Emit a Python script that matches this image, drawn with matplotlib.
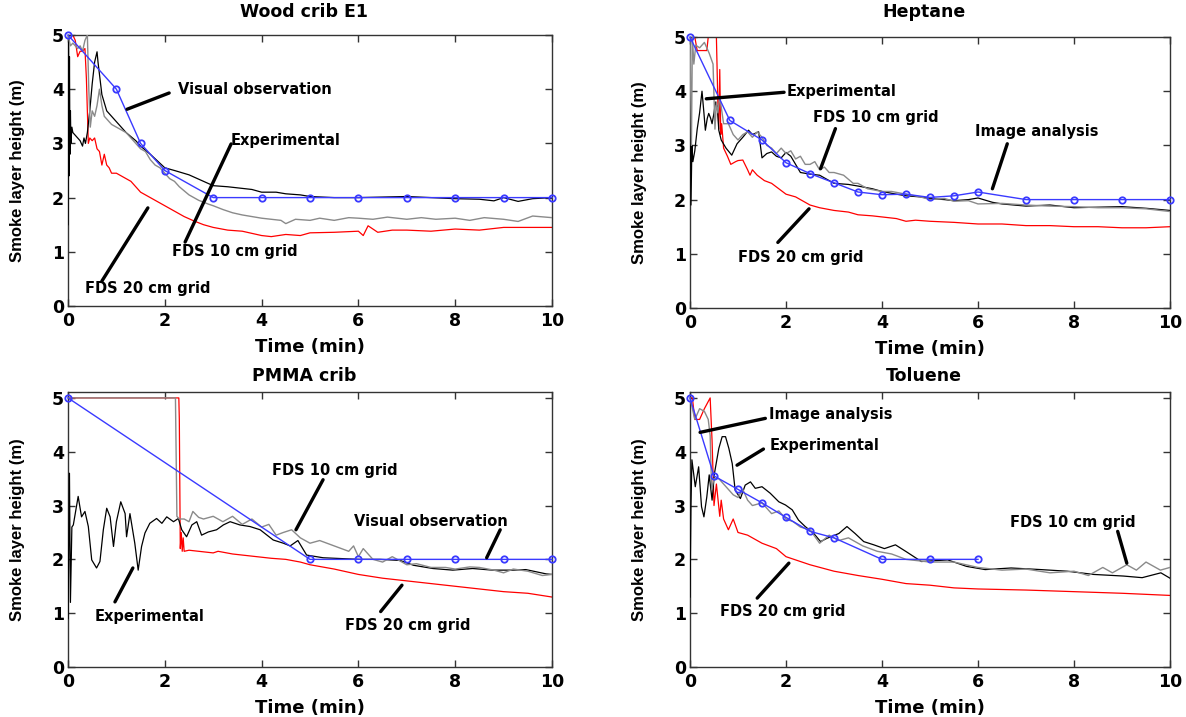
import matplotlib
matplotlib.use("Agg")
import matplotlib.pyplot as plt

# ---------------- data ----------------
# Wood crib E1
wc_vis_t = [0, 1, 1.5, 2, 3, 4, 5, 6, 7, 8, 9, 10]
wc_vis_h = [5, 4, 3, 2.5, 2, 2, 2, 2, 2, 2, 2, 2]
wc_exp_t = [0, 0.01, 0.02, 0.03, 0.04, 0.05, 0.06, 0.08, 0.1, 0.15, 0.2, 0.25, 0.3, 0.33, 0.36, 0.4,
            0.45, 0.5, 0.55, 0.6, 0.62, 0.66, 0.7, 0.8, 0.9, 1.0, 1.2, 1.4, 1.5, 1.7, 2.0, 2.2, 2.5,
            2.8, 3.0, 3.3, 3.5, 3.8, 4.0, 4.3, 4.5, 4.8, 5.0, 5.5, 6.0, 6.5, 7.0, 7.5, 8.0, 8.5,
            8.8, 9.0, 9.3, 9.6, 10]
wc_exp_h = [1.5, 5.0, 2.4, 4.6, 2.8, 3.6, 3.0, 3.3, 3.2, 3.15, 3.1, 3.05, 2.95, 3.1, 3.0, 3.2,
            3.6, 4.1, 4.5, 4.69, 4.5, 4.2, 3.9, 3.6, 3.5, 3.4, 3.2, 3.05, 2.95, 2.8, 2.55, 2.5, 2.42,
            2.3, 2.22, 2.2, 2.18, 2.15, 2.1, 2.1, 2.07, 2.05, 2.02, 2.0, 2.0, 2.01, 2.02, 2.0, 1.98, 1.97,
            1.94, 2.0, 1.93, 1.98, 2.0]
wc_f10_t = [0, 0.05, 0.1, 0.15, 0.2, 0.25, 0.3, 0.35, 0.4, 0.43, 0.46, 0.5, 0.55, 0.6, 0.65, 0.7,
            0.75, 0.8, 0.9, 1.0, 1.1, 1.2, 1.3, 1.4, 1.5, 1.6, 1.7, 1.8, 1.9, 2.0, 2.1, 2.2, 2.3, 2.5,
            2.7, 2.9, 3.0, 3.2, 3.4, 3.6, 3.8, 4.0, 4.2, 4.4, 4.5, 4.7, 5.0, 5.2, 5.5, 5.8, 6.0, 6.3,
            6.6, 7.0, 7.3, 7.6, 8.0, 8.3, 8.6, 9.0, 9.3, 9.6, 10]
wc_f10_h = [5, 4.8, 4.85, 4.8, 4.75, 4.8, 4.7, 4.9, 5.0, 4.0, 3.3, 3.6, 3.5, 3.7, 4.0, 3.7,
            3.5, 3.45, 3.35, 3.3, 3.25, 3.2, 3.1, 3.0, 2.9, 2.85, 2.7, 2.6, 2.55, 2.45, 2.35, 2.3, 2.2, 2.05,
            1.95, 1.88, 1.85, 1.78, 1.72, 1.68, 1.65, 1.62, 1.6, 1.58, 1.52, 1.6, 1.58, 1.62, 1.58, 1.63, 1.62, 1.6,
            1.64, 1.6, 1.63, 1.6, 1.62, 1.58, 1.63, 1.6, 1.56, 1.66, 1.63]
wc_f20_t = [0, 0.1, 0.15, 0.2, 0.25, 0.3, 0.35, 0.38, 0.42, 0.45, 0.5, 0.55, 0.6, 0.65, 0.7, 0.75,
            0.8, 0.85, 0.9, 1.0, 1.1, 1.2, 1.3, 1.4, 1.5, 1.6, 1.7, 1.8, 2.0, 2.2, 2.4, 2.6, 2.8, 3.0,
            3.3, 3.6, 4.0, 4.2, 4.5, 4.8, 5.0, 5.5, 6.0, 6.1, 6.2, 6.4, 6.7, 7.0, 7.5, 8.0, 8.5, 9.0,
            9.5, 10]
wc_f20_h = [5, 5, 4.9, 4.6, 4.7, 4.7, 4.75, 4.2, 3.0, 3.1, 3.05, 3.1, 2.9, 2.85, 2.6, 2.8,
            2.6, 2.55, 2.45, 2.45, 2.4, 2.35, 2.3, 2.2, 2.1, 2.05, 2.0, 1.95, 1.85, 1.75, 1.65, 1.57, 1.5, 1.45,
            1.4, 1.38, 1.3, 1.28, 1.32, 1.3, 1.35, 1.36, 1.38, 1.3, 1.48, 1.36, 1.4, 1.4, 1.38, 1.42, 1.4, 1.45,
            1.45, 1.45]

# Heptane
hp_img_t = [0, 0.83, 1.5, 2, 2.5, 3, 3.5, 4, 4.5, 5, 5.5, 6, 7, 8, 9, 10]
hp_img_h = [5, 3.46, 3.1, 2.68, 2.48, 2.31, 2.14, 2.09, 2.1, 2.04, 2.07, 2.14, 2.0, 2.0, 2.0, 2.0]
hp_exp_t = [0, 0.02, 0.04, 0.06, 0.1, 0.15, 0.2, 0.25, 0.29, 0.32, 0.36, 0.39, 0.43, 0.46, 0.5, 0.53,
            0.57, 0.6, 0.65, 0.75, 0.87, 0.98, 1.1, 1.22, 1.3, 1.43, 1.5, 1.6, 1.7, 1.8, 1.9, 2.0, 2.1,
            2.2, 2.3, 2.5, 2.7, 3.0, 3.3, 3.5, 3.8, 4.0, 4.3, 4.5, 4.8, 5.0, 5.3, 5.5, 5.8, 6.0, 6.3,
            6.5, 7.0, 7.5, 8.0, 8.5, 9.0, 9.5, 10]
hp_exp_h = [5, 1.9, 3.0, 2.7, 2.9, 3.3, 3.6, 4.0, 3.6, 3.28, 3.5, 3.59, 3.5, 3.4, 3.6, 3.8,
            3.7, 3.28, 3.1, 2.95, 2.82, 3.03, 3.15, 3.28, 3.2, 3.25, 2.77, 2.85, 2.88, 2.8, 2.77, 2.87, 2.8,
            2.65, 2.5, 2.47, 2.45, 2.3, 2.28, 2.25, 2.2, 2.15, 2.1, 2.07, 2.05, 2.02, 2.0, 1.98, 2.0, 2.03, 1.95,
            1.92, 1.88, 1.9, 1.85, 1.86, 1.87, 1.84, 1.8]
hp_f10_t = [0, 0.03, 0.05, 0.08, 0.12, 0.2, 0.3, 0.4, 0.48, 0.52, 0.55, 0.58, 0.62, 0.7, 0.8, 0.9,
            1.0, 1.1, 1.2, 1.3, 1.4, 1.5, 1.6, 1.7, 1.8, 1.9, 2.0, 2.1, 2.2, 2.3, 2.4, 2.5, 2.6, 2.7,
            2.8, 2.9, 3.0, 3.2, 3.4, 3.5, 3.7, 4.0, 4.2, 4.5, 4.8, 5.0, 5.3, 5.5, 5.8, 6.0, 6.5, 7.0,
            7.5, 8.0, 8.5, 9.0, 9.5, 10]
hp_f10_h = [5, 3.0, 5.0, 4.5, 4.85, 4.8, 4.9, 4.7, 4.5, 3.3, 3.8, 3.6, 3.9, 3.4, 3.4, 3.2,
            3.1, 3.2, 3.25, 3.15, 3.25, 3.15, 3.0, 2.95, 2.85, 2.95, 2.85, 2.9, 2.75, 2.8, 2.65, 2.65, 2.7, 2.55,
            2.6, 2.5, 2.5, 2.45, 2.3, 2.3, 2.2, 2.15, 2.15, 2.1, 2.05, 2.0, 2.02, 1.97, 1.98, 1.92, 1.93, 1.9,
            1.88, 1.87, 1.85, 1.85, 1.83, 1.78]
hp_f20_t = [0, 0.1, 0.15, 0.25, 0.35, 0.38, 0.45, 0.55, 0.58, 0.6, 0.62, 0.64, 0.66, 0.7, 0.78, 0.85,
            0.95, 1.0, 1.1, 1.2, 1.25, 1.3, 1.4, 1.55, 1.7, 1.85, 2.0, 2.2, 2.4, 2.5, 2.7, 3.0, 3.3,
            3.5, 3.8, 4.0, 4.3, 4.5, 4.7, 5.0, 5.5, 6.0, 6.5, 7.0, 7.5, 8.0, 8.5, 9.0, 9.5, 10]
hp_f20_h = [5, 5, 4.75, 4.75, 4.75, 5.0, 5.0, 5.0, 3.8, 3.3, 4.4, 3.2, 3.4, 2.95, 2.8, 2.65,
            2.7, 2.72, 2.73, 2.55, 2.45, 2.55, 2.45, 2.35, 2.3, 2.2, 2.1, 2.05, 1.95, 1.9, 1.85, 1.8, 1.77,
            1.72, 1.7, 1.68, 1.65, 1.6, 1.62, 1.6, 1.58, 1.55, 1.55, 1.52, 1.52, 1.5, 1.5, 1.48, 1.48, 1.5]

# PMMA crib
pm_vis_t = [0, 5, 6, 7, 8, 9, 10]
pm_vis_h = [5, 2, 2, 2, 2, 2, 2]
pm_exp_t = [0, 0.03, 0.05, 0.08, 0.11, 0.21, 0.28, 0.35, 0.42, 0.49, 0.59, 0.66, 0.73, 0.8, 0.87,
            0.94, 1.0, 1.09, 1.18, 1.21, 1.28, 1.38, 1.45, 1.52, 1.59, 1.69, 1.83, 1.94, 2.04, 2.18,
            2.28, 2.35, 2.45, 2.56, 2.66, 2.76, 2.9, 3.07, 3.21, 3.35, 3.55, 3.76, 3.97, 4.24, 4.45,
            4.59, 4.75, 4.93, 5.27, 5.76, 6.04, 6.45, 6.86, 7.14, 7.54, 7.95, 8.36, 8.77, 9.19, 9.46,
            9.88, 10]
pm_exp_h = [0.9, 3.6, 1.2, 2.6, 2.64, 3.17, 2.79, 2.89, 2.61, 1.99, 1.84, 1.96, 2.55, 2.95, 2.79,
            2.24, 2.7, 3.07, 2.85, 2.42, 2.85, 2.3, 1.8, 2.24, 2.49, 2.67, 2.76, 2.67, 2.79, 2.7,
            2.76, 2.55, 2.42, 2.64, 2.7, 2.45, 2.51, 2.55, 2.64, 2.7, 2.64, 2.61, 2.55, 2.36, 2.3,
            2.25, 2.35, 2.08, 2.03, 2.01, 2.0, 2.0, 1.98, 1.89, 1.83, 1.8, 1.83, 1.8, 1.8, 1.81,
            1.73, 1.72]
pm_f10_t = [0, 2.22, 2.25, 2.3, 2.4, 2.5, 2.58, 2.7, 2.8, 3.0, 3.2, 3.4, 3.6, 3.8, 4.0, 4.15,
            4.3, 4.45, 4.62, 4.8, 5.0, 5.2, 5.5, 5.8, 5.9, 6.0, 6.1, 6.3, 6.5, 6.7, 7.0, 7.2, 7.5,
            7.8, 8.0, 8.3, 8.5, 8.8, 9.0, 9.2, 9.5, 9.8, 10]
pm_f10_h = [5, 5, 2.8, 2.75, 2.75, 2.7, 2.89, 2.78, 2.75, 2.8, 2.7, 2.8, 2.65, 2.75, 2.6, 2.65,
            2.45, 2.5, 2.55, 2.4, 2.3, 2.35, 2.25, 2.15, 2.25, 2.05, 2.2, 2.0, 1.95, 2.05, 1.9, 1.92, 1.85,
            1.85, 1.82, 1.86, 1.85, 1.8, 1.75, 1.82, 1.78, 1.7, 1.72]
pm_f20_t = [0, 2.29, 2.3, 2.32, 2.34, 2.36, 2.38, 2.4, 2.5, 2.7, 3.0, 3.1, 3.4, 3.6, 3.9, 4.2,
            4.5, 4.8, 5.0, 5.5, 6.0, 6.5, 7.0, 7.5, 8.0, 8.5, 9.0, 9.5, 10]
pm_f20_h = [5, 5, 4.6, 2.2, 2.5, 2.15, 2.4, 2.15, 2.17, 2.15, 2.12, 2.15, 2.1, 2.08, 2.05, 2.02,
            2.0, 1.95, 1.9, 1.82, 1.72, 1.65, 1.6, 1.55, 1.5, 1.45, 1.4, 1.37, 1.3]

# Toluene
tl_img_t = [0, 0.5, 1, 1.5, 2, 2.5, 3, 4, 5, 6]
tl_img_h = [5, 3.55, 3.3, 3.05, 2.78, 2.52, 2.4, 2.0, 2.0, 2.0]
tl_exp_t = [0, 0.02, 0.04, 0.11, 0.18, 0.24, 0.29, 0.35, 0.4, 0.46, 0.51, 0.6, 0.67, 0.74, 0.81,
            0.88, 0.94, 1.05, 1.15, 1.26, 1.36, 1.5, 1.67, 1.85, 1.99, 2.13, 2.26, 2.4, 2.58, 2.72,
            2.85, 3.1, 3.27, 3.44, 3.62, 3.83, 4.05, 4.28, 4.51, 4.82, 5.37, 5.76, 6.15, 6.69, 7.31,
            7.86, 8.41, 9.03, 9.42, 9.81, 10]
tl_exp_h = [1.3, 3.0, 3.85, 3.35, 3.72, 2.98, 2.79, 3.16, 3.57, 3.1, 3.6, 4.06, 4.28, 4.28, 4.06,
            3.78, 3.29, 3.13, 3.38, 3.44, 3.32, 3.35, 3.23, 3.07, 3.01, 2.92, 2.73, 2.61, 2.48, 2.33,
            2.39, 2.48, 2.61, 2.48, 2.33, 2.27, 2.2, 2.27, 2.14, 1.96, 1.99, 1.87, 1.81, 1.84, 1.81,
            1.78, 1.72, 1.69, 1.66, 1.75, 1.65]
tl_f10_t = [0, 0.05, 0.1, 0.2, 0.3, 0.38, 0.42, 0.45, 0.5, 0.6, 0.7, 0.8, 0.9, 1.0, 1.1, 1.2, 1.3,
            1.5, 1.7, 1.85, 2.0, 2.15, 2.3, 2.5, 2.7, 2.9, 3.1, 3.3, 3.6, 3.9, 4.2, 4.5, 5.0, 5.5,
            6.0, 6.5, 7.0, 7.5, 8.0, 8.3, 8.6, 8.8, 9.1, 9.3, 9.5, 9.8, 10]
tl_f10_h = [5, 4.8, 4.6, 4.8, 4.75, 4.6, 4.3, 3.3, 3.5, 3.5, 3.4, 3.3, 3.2, 3.15, 3.3, 3.1, 3.0,
            3.05, 2.85, 2.9, 2.75, 2.7, 2.6, 2.55, 2.3, 2.45, 2.35, 2.4, 2.25, 2.15, 2.1, 2.0, 1.95, 1.95,
            1.85, 1.8, 1.82, 1.75, 1.78, 1.7, 1.85, 1.75, 1.9, 1.8, 1.95, 1.8, 1.85]
tl_f20_t = [0, 0.05, 0.1, 0.2, 0.3, 0.42, 0.46, 0.5, 0.55, 0.62, 0.65, 0.7, 0.8, 0.9, 1.0, 1.2,
            1.5, 1.8, 2.0, 2.5, 3.0, 3.5, 4.0, 4.5, 5.0, 5.5, 6.0, 7.0, 8.0, 9.0, 10]
tl_f20_h = [5, 5, 4.6, 4.6, 4.8, 5.0, 4.2, 3.0, 3.4, 2.8, 3.1, 2.75, 2.55, 2.75, 2.5, 2.45,
            2.3, 2.2, 2.05, 1.9, 1.78, 1.7, 1.63, 1.55, 1.52, 1.47, 1.45, 1.43, 1.4, 1.37, 1.33]

# annotations: label, text position (t, h), leader start, leader end
wc_notes = [("Visual observation", (2.27, 4.0), (2.09, 3.93), (1.22, 3.63)),
            ("Experimental", (3.35, 3.06), (3.37, 2.99), (2.42, 1.18)),
            ("FDS 10 cm grid", (2.15, 1.0), None, None),
            ("FDS 20 cm grid", (0.35, 0.33), (0.70, 0.46), (1.65, 1.81))]
hp_notes = [("Experimental", (2.02, 4.0), (1.96, 3.98), (0.34, 3.86)),
            ("FDS 10 cm grid", (2.56, 3.52), (3.03, 3.31), (2.72, 2.57)),
            ("Image analysis", (5.94, 3.25), (6.61, 3.03), (6.3, 2.2)),
            ("FDS 20 cm grid", (1.0, 0.94), (1.83, 1.21), (2.48, 1.83))]
pm_notes = [("FDS 10 cm grid", (4.21, 3.66), (5.27, 3.48), (4.71, 2.55)),
            ("Visual observation", (5.91, 2.71), (8.93, 2.55), (8.65, 2.03)),
            ("Experimental", (0.56, 0.93), (0.97, 1.21), (1.34, 1.84)),
            ("FDS 20 cm grid", (5.72, 0.78), (6.46, 1.03), (6.9, 1.52))]
tl_notes = [("Image analysis", (1.65, 4.7), (1.57, 4.62), (0.21, 4.36)),
            ("Experimental", (1.65, 4.11), (1.53, 4.05), (0.98, 3.75)),
            ("FDS 10 cm grid", (6.67, 2.68), (8.91, 2.52), (9.1, 1.93)),
            ("FDS 20 cm grid", (0.63, 1.04), (1.4, 1.28), (2.06, 1.93))]

x_ticks = [0, 2, 4, 6, 8, 10]
y_ticks = [0, 1, 2, 3, 4, 5]

BLUE = "#3a3aff"
GRAY = "#8a8a8a"
BOLD = dict(family="DejaVu Sans", weight="bold")

fig = plt.figure(figsize=(11.86, 7.17), dpi=100)
W, H = 1186, 717


def make_ax(l, r, t, b, ytop):
    # pixel box -> figure fractions
    ax = fig.add_axes([l / W, 1 - b / H, (r - l) / W, (b - t) / H])
    ax.set_xlim(0, 10)
    ax.set_ylim(0, ytop)
    return ax


def panel(ax, title, blue, exp, f10, f20, notes, title_y):
    ax.plot(f20[0], f20[1], color="red", lw=0.9, zorder=2)
    ax.plot(exp[0], exp[1], color="black", lw=0.9, zorder=3)
    ax.plot(f10[0], f10[1], color=GRAY, lw=1.0, zorder=3)
    ax.plot(blue[0], blue[1], color=BLUE, lw=1.0, marker="o", ms=4.6, mfc="none",
            mec=BLUE, mew=1.3, zorder=4, clip_on=False)
    for label, tp, ls, le in notes:
        ax.text(tp[0], tp[1], label, fontsize=10.5, ha="left", va="center", **BOLD, zorder=6)
        if ls is not None:
            ax.annotate("", xy=le, xytext=ls,
                        arrowprops=dict(arrowstyle="-", lw=2.4, color="black",
                                        shrinkA=0, shrinkB=0), zorder=5)
    ax.set_xticks(x_ticks)
    ax.set_yticks(y_ticks)
    ax.set_xticklabels([str(v) for v in x_ticks], **BOLD, fontsize=12.5)
    ax.set_yticklabels([str(v) for v in y_ticks], **BOLD, fontsize=12.5)
    ax.tick_params(direction="in", top=True, right=True, length=5, width=1, color="#333333")
    ax.tick_params(axis="x", pad=4)
    ax.tick_params(axis="y", pad=3)
    for s in ax.spines.values():
        s.set_color("#333333")
        s.set_linewidth(1.0)
    ax.set_xlabel("Time (min)", **BOLD, fontsize=13, labelpad=6)
    ax.set_ylabel("Smoke layer height (m)", family="Liberation Sans", weight="bold",
                  fontsize=12, labelpad=19)
    fig.text(ax.get_position().x0 + ax.get_position().width / 2 - 0.005, 1 - title_y / H,
             title, ha="center", va="center", fontsize=12.5, **BOLD)


ax1 = make_ax(68, 552, 35, 306, 5.0)
panel(ax1, "Wood crib E1", (wc_vis_t, wc_vis_h), (wc_exp_t, wc_exp_h), (wc_f10_t, wc_f10_h),
      (wc_f20_t, wc_f20_h), wc_notes, 12)
ax2 = make_ax(690, 1170, 37, 308, 5.0)
panel(ax2, "Heptane", (hp_img_t, hp_img_h), (hp_exp_t, hp_exp_h), (hp_f10_t, hp_f10_h),
      (hp_f20_t, hp_f20_h), hp_notes, 12)
ax3 = make_ax(68, 552, 392, 667, 5.11)
panel(ax3, "PMMA crib", (pm_vis_t, pm_vis_h), (pm_exp_t, pm_exp_h), (pm_f10_t, pm_f10_h),
      (pm_f20_t, pm_f20_h), pm_notes, 376)
ax4 = make_ax(690, 1170, 392, 667, 5.11)
panel(ax4, "Toluene", (tl_img_t, tl_img_h), (tl_exp_t, tl_exp_h), (tl_f10_t, tl_f10_h),
      (tl_f20_t, tl_f20_h), tl_notes, 376)

fig.savefig("out.png", dpi=100, facecolor="white")
